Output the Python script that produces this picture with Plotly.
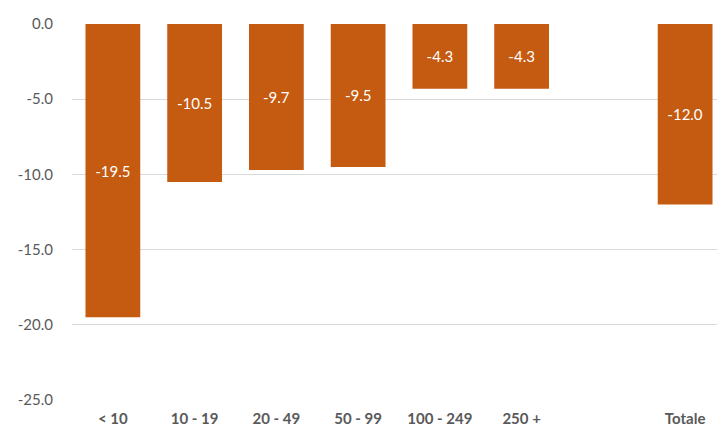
import plotly.graph_objects as go

# Variazione percentuale per classe di addetti
categories = ["< 10", "10 - 19", "20 - 49", "50 - 99", "100 - 249", "250 +", "", "Totale"]
values = [-19.5, -10.5, -9.7, -9.5, -4.3, -4.3, None, -12.0]
y_ticks = [0, -5, -10, -15, -20, -25]

positions = list(range(len(categories)))
bar_color = "#C55A11"
text_gray = "#595959"
font_family = "Lato, 'Open Sans', sans-serif"

labels = ["" if v is None else f"{v:.1f}" for v in values]
y_tick_text = [f"{t:.1f}" for t in y_ticks]

fig = go.Figure(
    go.Bar(
        x=positions,
        y=values,
        width=0.67,
        marker=dict(color=bar_color, line=dict(width=0)),
        text=labels,
        textposition="inside",
        insidetextanchor="middle",
        textangle=0,
        textfont=dict(color="white", size=15, family=font_family),
        cliponaxis=False,
    )
)

fig.update_layout(
    width=717,
    height=430,
    margin=dict(l=72, r=0, t=24, b=30),
    plot_bgcolor="white",
    paper_bgcolor="white",
    showlegend=False,
    font=dict(family=font_family, color=text_gray, size=14),
    xaxis=dict(
        range=[-0.5, 7.39],
        tickvals=positions,
        ticktext=[f"<b>{c}</b>" if c else "" for c in categories],
        showgrid=False,
        zeroline=False,
        showline=False,
        ticks="",
        automargin=False,
        ticklabelstandoff=8,
        tickfont=dict(size=15, color=text_gray),
    ),
    yaxis=dict(
        range=[-25, 0],
        tickvals=y_ticks,
        ticktext=y_tick_text,
        showgrid=True,
        gridcolor="#D9D9D9",
        gridwidth=1,
        zeroline=False,
        showline=False,
        ticks="",
        automargin=False,
        ticklabelstandoff=18,
        tickfont=dict(size=15, color=text_gray),
    ),
)

fig.write_html("out.html")
